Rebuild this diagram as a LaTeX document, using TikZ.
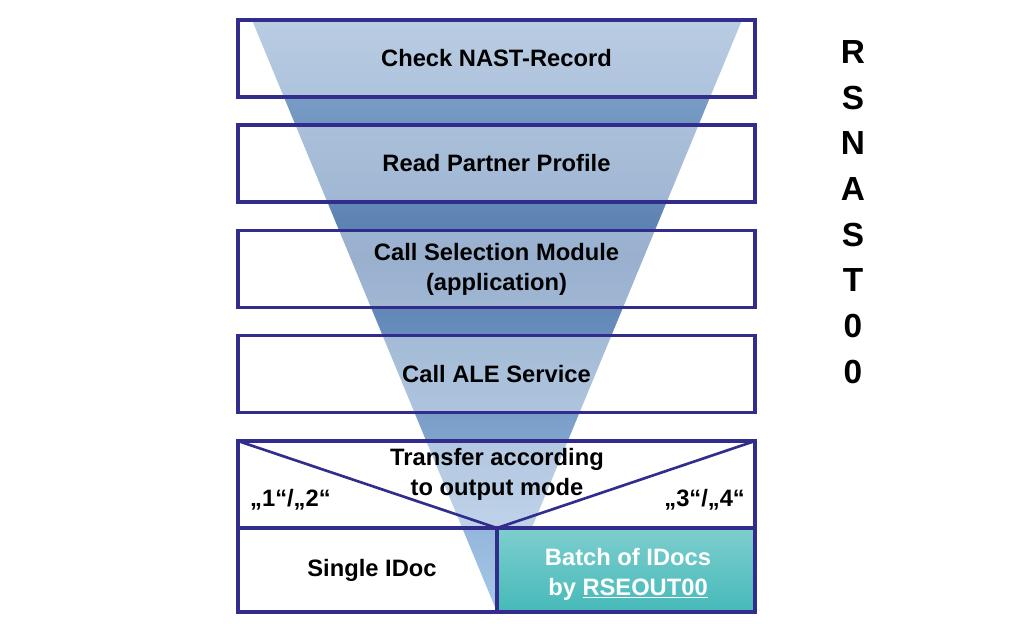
\documentclass[tikz,border=0pt]{standalone}
\usepackage{fontspec}
\setmainfont{Liberation Sans}
\definecolor{boxline}{RGB}{50,45,140}
\definecolor{funtop}{RGB}{205,228,250}
\definecolor{funmid}{RGB}{85,125,175}
\definecolor{funbot}{RGB}{195,225,252}
\definecolor{teal}{RGB}{70,185,185}
\pgfdeclareverticalshading{funnel}{100bp}{color(0bp)=(funbot); color(15bp)=(funbot); color(55bp)=(funmid); color(100bp)=(funtop)}
\begin{document}
\begin{tikzpicture}[x=0.02cm,y=-0.02cm]
	\tikzset{stage/.style={draw=boxline,line width=1.8pt,fill=white,fill opacity=0.4,text opacity=1,
			minimum width=10.34cm,minimum height=1.54cm,align=center,font=\bfseries\fontsize{13.5}{17}\selectfont},
		label/.style={font=\bfseries\fontsize{13.5}{17}\selectfont}}
	\useasboundingbox (0,0) rectangle (1024,630);
	% funnel
	\shade[shading=funnel] (252,20) -- (742,20) -- (497,612) -- cycle;
	\node[stage] (check) at (496.5,58.5) {Check NAST-Record};
	\node[stage] (read) at (496.5,163.5) {Read Partner Profile};
	\node[stage] (select) at (496.5,269) {Call Selection Module\\(application)};
	\node[stage] (ale) at (496.5,374) {Call ALE Service};
	% transfer box
	\fill[white,opacity=0.4] (238,441) rectangle (755,528);
	\shade[top color=teal!70!white,bottom color=teal] (497,528) rectangle (755,612);
	\draw[boxline,line width=1.8pt] (238,441) rectangle (755,612);
	\draw[boxline,line width=1.8pt] (238,528) -- (755,528) (497,528) -- (497,612);
	\draw[boxline,line width=1.5pt] (238,441) -- (497,528) -- (755,441);
	\node[label,align=center] (transfer) at (497,474) {Transfer according\\to output mode};
	\node[label,anchor=west] (mode1) at (244,500) {„1“/„2“};
	\node[label,anchor=east] (mode3) at (751,500) {„3“/„4“};
	\node[label] (single) at (372,570) {Single IDoc};
	\node[label,text=white,align=center] (batch) at (628,574) {Batch of IDocs\\by \underline{RSEOUT00}};
	% program name
	\node[font=\bfseries\fontsize{19}{26}\selectfont,align=center] (prog) at (853,212) {R\\S\\N\\A\\S\\T\\0\\0};
\end{tikzpicture}
\end{document}
